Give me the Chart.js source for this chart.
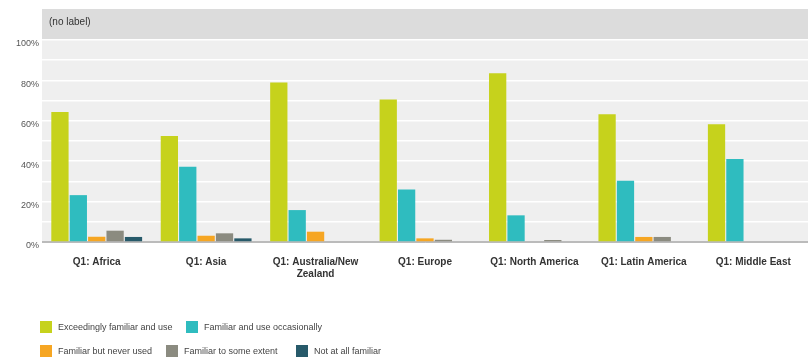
<!DOCTYPE html>
<html>
<head>
<meta charset="utf-8">
<script src="https://cdn.jsdelivr.net/npm/chart.js@4/dist/chart.umd.min.js"></script>
<style>
  body { margin: 0; background: #fff; font-family: "Liberation Sans", Arial, sans-serif; }
  #wrap { position: relative; width: 808px; height: 360px; }
  .leg { position: absolute; font-size: 9px; color: #444; display: flex; align-items: center; white-space: nowrap; }
  .leg span.box { width: 12px; height: 12px; margin-right: 6px; display: inline-block; }
</style>
</head>
<body>
<div id="wrap">
  <canvas id="chart" width="808" height="360"></canvas>
</div>
<script>
const regions = ["Q1: Africa", "Q1: Asia", ["Q1: Australia/New", "Zealand"], "Q1: Europe", "Q1: North America", "Q1: Latin America", "Q1: Middle East"];

const seriesNames = ["Exceedingly familiar and use", "Familiar and use occasionally", "Familiar but never used", "Familiar to some extent", "Not at all familiar"];
const seriesColors = ["#c6d21c", "#2fbcbf", "#f6a623", "#8b8b80", "#275a6a"];

const exceedingly = [64.3, 52.5, 79.0, 70.6, 83.5, 63.2, 58.3];
const occasionally = [23.2, 37.2, 15.8, 26.0, 13.2, 30.3, 41.1];
const neverUsed = [2.6, 3.1, 5.1, 1.8, 0, 2.5, 0];
const someExtent = [5.6, 4.3, 0, 1.1, 1.0, 2.5, 0];
const notAtAll = [2.5, 1.8, 0, 0, 0, 0, 0];

const yTicks = [0, 20, 40, 60, 80, 100];

const seriesData = [exceedingly, occasionally, neverUsed, someExtent, notAtAll];

// plot background + header band
const panelPlugin = {
  id: "panel",
  beforeDraw(c) {
    const a = c.chartArea, ctx = c.ctx;
    ctx.save();
    ctx.fillStyle = "#dcdcdc";
    ctx.fillRect(a.left, 9, a.right - a.left, a.top - 9);
    ctx.fillStyle = "#efefef";
    ctx.fillRect(a.left, a.top, a.right - a.left, a.bottom - a.top);
    ctx.fillStyle = "#333";
    ctx.font = "10px 'Liberation Sans', Arial, sans-serif";
    ctx.textBaseline = "middle";
    ctx.fillText("(no label)", a.left + 7, 22);
    ctx.restore();
  }
};

chart = new Chart(document.getElementById("chart"), {
  type: "bar",
  data: {
    labels: regions,
    datasets: seriesData.map((d, i) => ({
      label: seriesNames[i],
      data: d,
      backgroundColor: seriesColors[i],
      borderWidth: 0,
      barPercentage: 0.94,
      categoryPercentage: 0.84
    }))
  },
  options: {
    responsive: false,
    animation: false,
    layout: { padding: { top: 40, right: 0, left: 0, bottom: 0 } },
    plugins: { legend: { display: false }, tooltip: { enabled: false } },
    scales: {
      x: {
        grid: { display: false },
        border: { color: "#bbb" },
        ticks: { color: "#333", font: { size: 10, weight: "bold", family: "'Liberation Sans', Arial, sans-serif" }, maxRotation: 0, padding: 6 },
        afterFit: s => { s.height = 118; }
      },
      y: {
        min: 0, max: 100,
        ticks: {
          stepSize: 10,
          color: "#555",
          labelOffset: 4,
          font: { size: 9, family: "'Liberation Sans', Arial, sans-serif" },
          callback: v => yTicks.includes(v) ? v + "%" : ""
        },
        grid: { color: ctx => ctx.tick.value === 0 ? "#bbb" : "#ffffff", lineWidth: 1.5, drawTicks: false },
        border: { display: false },
        afterFit: s => { s.width = 42; }
      }
    }
  },
  plugins: [panelPlugin]
});

// legend in two rows, as in the original
const legendPos = [[40, 327], [186, 327], [40, 351], [166, 351], [296, 351]];
const wrap = document.getElementById("wrap");
seriesNames.forEach((n, i) => {
  const el = document.createElement("div");
  el.className = "leg";
  el.style.left = legendPos[i][0] + "px";
  el.style.top = (legendPos[i][1] - 6) + "px";
  el.innerHTML = `<span class="box" style="background:${seriesColors[i]}"></span>${n}`;
  wrap.appendChild(el);
});
</script>
</body>
</html>
